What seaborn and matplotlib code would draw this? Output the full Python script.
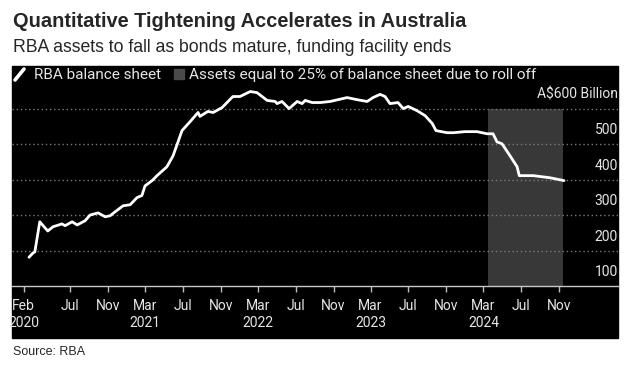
import pandas as pd
import matplotlib
matplotlib.use("Agg")
from matplotlib import pyplot as plt
from matplotlib.patches import Rectangle
from matplotlib.lines import Line2D
import seaborn as sns

# RBA balance sheet, A$ billion
dates = ["2020-02-18", "2020-03-02", "2020-03-08", "2020-03-24", "2020-04-19",
         "2020-05-06", "2020-06-04", "2020-06-14", "2020-07-07", "2020-07-23",
         "2020-08-18", "2020-09-03", "2020-09-29", "2020-10-22", "2020-11-07",
         "2020-11-23", "2020-12-19", "2021-01-11", "2021-02-02", "2021-02-18",
         "2021-02-28", "2021-03-23", "2021-04-08", "2021-05-10", "2021-05-30",
         "2021-06-15", "2021-06-28", "2021-07-24", "2021-08-19", "2021-08-25",
         "2021-09-20", "2021-10-07", "2021-11-05", "2021-12-10", "2022-01-02",
         "2022-02-04", "2022-02-26", "2022-03-31", "2022-04-26", "2022-05-02",
         "2022-05-18", "2022-06-10", "2022-07-06", "2022-07-22", "2022-08-01",
         "2022-08-24", "2022-09-19", "2022-10-21", "2022-12-15", "2023-01-17",
         "2023-02-18", "2023-03-09", "2023-04-01", "2023-04-17", "2023-05-03",
         "2023-05-29", "2023-06-15", "2023-07-01", "2023-07-30", "2023-08-25",
         "2023-09-17", "2023-09-29", "2023-11-04", "2023-11-24", "2024-01-01",
         "2024-02-09", "2024-03-13", "2024-04-01", "2024-04-14", "2024-04-30",
         "2024-05-26", "2024-06-18", "2024-06-25", "2024-08-09", "2024-10-03",
         "2024-11-17"]
assets = [181, 193, 196, 281, 255,
          267, 275, 270, 281, 272,
          284, 300, 306, 295, 298,
          309, 326, 329, 349, 355,
          382, 397, 411, 436, 467,
          506, 538, 563, 589, 578,
          592, 589, 603, 634, 634,
          648, 645, 623, 620, 614,
          620, 600, 620, 614, 623,
          617, 617, 620, 631, 625,
          620, 631, 640, 634, 614,
          617, 600, 606, 594, 580,
          558, 538, 532, 532, 535,
          535, 529, 529, 506, 501,
          467, 436, 411, 411, 405,
          397]

roll_off_start = "2024-03-16"
roll_off_end = "2024-11-14"
roll_off_low, roll_off_high = 100, 600

tick_dates = ["2020-02-01", "2020-07-01", "2020-11-01", "2021-03-01", "2021-07-01",
              "2021-11-01", "2022-03-01", "2022-07-01", "2022-11-01", "2023-03-01",
              "2023-07-01", "2023-11-01", "2024-03-01", "2024-07-01", "2024-11-01"]
tick_labels = ["Feb\n2020", "Jul", "Nov", "Mar\n2021", "Jul", "Nov", "Mar\n2022", "Jul",
               "Nov", "Mar\n2023", "Jul", "Nov", "Mar\n2024", "Jul", "Nov"]
y_ticks = [200, 300, 400, 500, 600]
y_labels = ["100", "200", "300", "400", "500", "A$600 Billion"]

title = "Quantitative Tightening Accelerates in Australia"
subtitle = "RBA assets to fall as bonds mature, funding facility ends"
source = "Source: RBA"
legend_line = "RBA balance sheet"
legend_box = "Assets equal to 25% of balance sheet due to roll off"

W, H = 638, 369
TXT = "#e6e6e6"
SHADE = "#383838"


def fx(px):
    return px / W


def fy(py):
    return 1 - py / H


def main():
    sns.set_style("dark")
    plt.rcParams["font.family"] = ["Roboto", "DejaVu Sans"]

    df = pd.DataFrame({"date": pd.to_datetime(dates), "assets": assets})

    fig = plt.figure(figsize=(W / 100, H / 100), dpi=100)
    fig.patch.set_facecolor("white")
    fig.add_artist(Rectangle((fx(12), fy(338)), fx(606), 272 / H,
                             transform=fig.transFigure, color="black", zorder=0))

    ax = fig.add_axes([fx(12), fy(286), fx(606), 220 / H])
    ax.set_facecolor("black")

    ax.fill_between(pd.to_datetime([roll_off_start, roll_off_end]),
                    roll_off_low, roll_off_high, color=SHADE, lw=0, zorder=1)
    for v in y_ticks:
        ax.axhline(v, color="#7a7a7a", lw=1, ls=(0, (1, 2)), zorder=2)

    sns.lineplot(data=df, x="date", y="assets", ax=ax, color="white", lw=2.0,
                 zorder=3)

    ax.set_xlim(pd.Timestamp("2019-12-25"), pd.Timestamp("2025-05-11"))
    ax.set_ylim(100, 720)
    ax.set_xlabel("")
    ax.set_ylabel("")
    ax.grid(False)
    ax.set_yticks([])
    ax.set_xticks(pd.to_datetime(tick_dates))
    ax.set_xticklabels(tick_labels, color=TXT, fontsize=10, linespacing=1.3)
    ax.tick_params(axis="x", direction="out", length=4, width=1, color="#bdbdbd",
                   pad=5, bottom=True)
    for side in ["top", "right", "left"]:
        ax.spines[side].set_visible(False)
    ax.spines["bottom"].set_color("#c8c8c8")
    ax.spines["bottom"].set_linewidth(1)

    for v, lab in zip([100] + y_ticks, y_labels):
        ax.text(1.0, v + 39, lab, transform=ax.get_yaxis_transform(),
                ha="right", va="center", color=TXT, fontsize=10)

    # titles
    fig.text(fx(13), fy(27), title, fontsize=14.4, fontweight="bold",
             family=["Liberation Sans", "DejaVu Sans"], va="baseline")
    fig.text(fx(13), fy(52), subtitle, fontsize=12.7,
             family=["Liberation Sans", "DejaVu Sans"], va="baseline")
    fig.text(fx(13), fy(355), source, fontsize=9,
             family=["Liberation Sans", "DejaVu Sans"], va="baseline")

    # legend row
    fig.add_artist(Line2D([fx(15), fx(24)], [fy(80), fy(69)], color="white",
                          lw=2.6, transform=fig.transFigure))
    fig.canvas.draw()
    r = fig.canvas.get_renderer()
    t1 = fig.text(fx(34), fy(79), legend_line, color=TXT, fontsize=11,
                  va="baseline")
    x_end = t1.get_window_extent(r).x1
    fig.add_artist(Rectangle((fx(x_end + 13), fy(79)), fx(10), 10 / H,
                             transform=fig.transFigure, color="#4a4a4a"))
    fig.text(fx(x_end + 28), fy(79), legend_box, color=TXT, fontsize=11,
             va="baseline")

    fig.savefig("out.png", dpi=100)


if __name__ == "__main__":
    main()
